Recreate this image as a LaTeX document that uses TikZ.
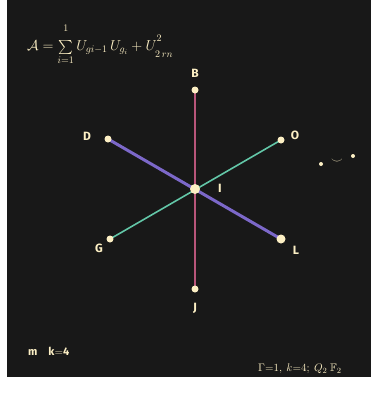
\documentclass[tikz,border=0pt]{standalone}
\usepackage{amsmath,amssymb}
\usepackage{fontspec}
\setmainfont{Fira Sans}
\usepackage{xcolor}
\usetikzlibrary{positioning, backgrounds}
\definecolor{chalkbg}{HTML}{181818}
\definecolor{chalkcream}{HTML}{FCEFC4}
\definecolor{chalkrose}{HTML}{B8557A}
\definecolor{chalkviolet}{HTML}{7C68C9}
\definecolor{chalkteal}{HTML}{63C7A8}

\begin{document}
\begin{tikzpicture}[
  x=1pt, y=-1pt,
  dot/.style={circle, fill=chalkcream, inner sep=0pt, minimum size=#1},
  dot/.default=7pt,
  lbl/.style={text=chalkcream, font=\fontsize{12}{14}\selectfont\bfseries, inner sep=0pt},
  note/.style={text=chalkcream, font=\fontsize{11}{13}\selectfont\bfseries, inner sep=0pt},
]
  \useasboundingbox (0,0) rectangle (376,394);

  % star of points
  \node[dot=10pt] (I) at (195,189) {};
  \node[dot] (B) at (195,90) {};
  \node[dot] (J) at (195,289) {};
  \node[dot] (D) at (108,139) {};
  \node[dot] (O) at (281,140) {};
  \node[dot] (G) at (110,239) {};
  \node[dot=9pt] (L) at (281,239) {};

  \begin{scope}[on background layer]
    \fill[white] (0,0) rectangle (376,394);
    \fill[chalkbg] (7,0) rectangle (371,377);
    \draw[chalkrose, line width=2.5pt] (B.center) -- (J.center);
    \draw[chalkviolet, line width=3pt] (D.center) -- (L.center);
    \draw[chalkteal, line width=1.6pt] (G.center) -- (O.center);
  \end{scope}

  % labels
  \node[lbl] (labB) at (195,73) {B};
  \node[lbl] (labJ) at (195,308) {J};
  \node[lbl] (labD) at (87,136) {D};
  \node[lbl] (labO) at (295,135) {O};
  \node[lbl] (labG) at (99,248) {G};
  \node[lbl] (labL) at (296,250) {L};
  \node[lbl] (labI) at (220,188) {I};

  % trailing dots
  \node[dot=4pt] (t1) at (321,164) {};
  \node[lbl] (t2) at (337,161) {$\smile$};
  \node[dot=4pt] (t3) at (353,156) {};

  % notes
  \node[lbl, anchor=west, font=\fontsize{14}{16}\selectfont] (formula) at (27,44)
    {$\mathcal{A} = \sum\limits_{i=1}^{\raisebox{6pt}{$\scriptstyle 1$}} U_{gi-1}\, U_{g_i} + U^{\raisebox{4pt}{$\scriptstyle 2$}}_{\raisebox{-3pt}{$\scriptstyle 2\,rn$}}$};
  \node[note, anchor=west] (left) at (28,351) {m\quad k${=}$4};
  \node[note, anchor=west] (right) at (258,369)
    {$\Gamma{=}1,\ k{=}4;\ Q_2\ \mathbb{F}_2$};
\end{tikzpicture}
\end{document}
